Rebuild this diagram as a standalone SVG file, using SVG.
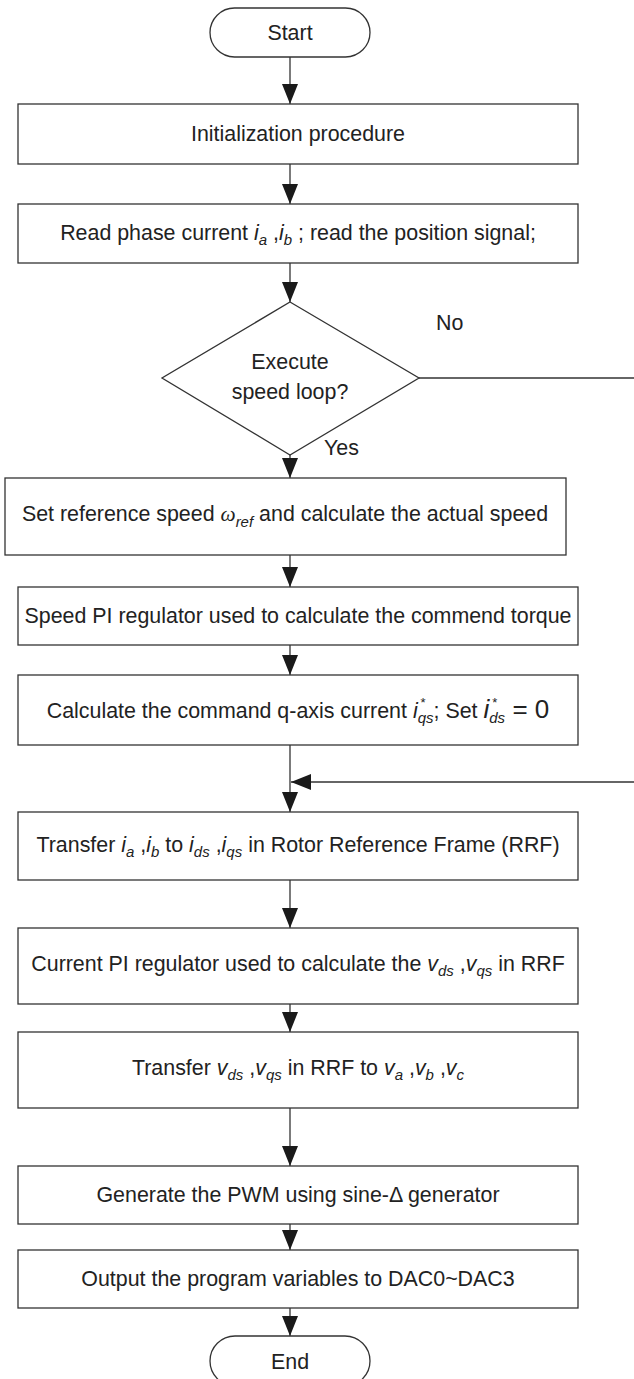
<svg xmlns="http://www.w3.org/2000/svg" width="634" height="1379" viewBox="0 0 634 1379">
<defs>
<marker id="ah" markerUnits="userSpaceOnUse" markerWidth="20" markerHeight="16" viewBox="0 0 20 16" refX="20" refY="8" orient="auto">
<path d="M0,0 L20,8 L0,16 Z" fill="#1a1a1a"/>
</marker>
</defs>
<style>
.box{fill:#fff;stroke:#333;stroke-width:1.3}
.ln{fill:none;stroke:#333;stroke-width:1.3}
text{font-family:"Liberation Sans",Arial,sans-serif;font-size:21.4px;fill:#222}
.t{text-anchor:middle}
.it{font-style:italic}
.sb{font-style:italic;font-size:15px}
.st{font-size:13px}
.om{font-family:"Liberation Serif","Times New Roman",serif;font-style:italic}
.big{font-size:26px}
</style>
<rect width="634" height="1379" fill="#fff"/>
<g id="connectors">
<line class="ln" x1="290" y1="57" x2="290" y2="104" marker-end="url(#ah)"/>
<line class="ln" x1="290" y1="164" x2="290" y2="204" marker-end="url(#ah)"/>
<line class="ln" x1="290" y1="263" x2="290" y2="302" marker-end="url(#ah)"/>
<line class="ln" x1="290" y1="455" x2="290" y2="478" marker-end="url(#ah)"/>
<line class="ln" x1="419" y1="378" x2="634" y2="378"/>
<line class="ln" x1="290" y1="555" x2="290" y2="587" marker-end="url(#ah)"/>
<line class="ln" x1="290" y1="645" x2="290" y2="675" marker-end="url(#ah)"/>
<line class="ln" x1="290" y1="745" x2="290" y2="812" marker-end="url(#ah)"/>
<line class="ln" x1="634" y1="782" x2="291" y2="782" marker-end="url(#ah)"/>
<line class="ln" x1="290" y1="880" x2="290" y2="928" marker-end="url(#ah)"/>
<line class="ln" x1="290" y1="1004" x2="290" y2="1032" marker-end="url(#ah)"/>
<line class="ln" x1="290" y1="1108" x2="290" y2="1166" marker-end="url(#ah)"/>
<line class="ln" x1="290" y1="1224" x2="290" y2="1250" marker-end="url(#ah)"/>
<line class="ln" x1="290" y1="1308" x2="290" y2="1336" marker-end="url(#ah)"/>
<text x="436" y="330">No</text>
<text x="324" y="455">Yes</text>
</g>
<g id="start">
<rect class="box" x="210" y="8" width="160" height="49" rx="24.5"/>
<text class="t" x="290" y="40">Start</text>
</g>
<g id="init">
<rect class="box" x="18" y="104" width="560" height="60"/>
<text class="t" x="298" y="141">Initialization procedure</text>
</g>
<g id="read">
<rect class="box" x="18" y="204" width="560" height="59"/>
<text class="t" x="298" y="240">Read phase current <tspan class="it">i</tspan><tspan class="sb" dy="5">a</tspan><tspan dy="-5"> ,</tspan><tspan class="it">i</tspan><tspan class="sb" dy="5">b</tspan><tspan dy="-5"> ; read the position signal;</tspan></text>
</g>
<g id="decision">
<polygon class="box" points="290,302 419,378 290,455 162,378"/>
<text class="t" x="290" y="369">Execute</text>
<text class="t" x="290" y="399">speed loop?</text>
</g>
<g id="setref">
<rect class="box" x="5" y="478" width="561" height="77"/>
<text class="t" x="285" y="521">Set reference speed <tspan class="om">ω</tspan><tspan class="sb" dy="6">ref</tspan><tspan dy="-6"> and calculate the actual speed</tspan></text>
</g>
<g id="speedpi">
<rect class="box" x="18" y="587" width="560" height="58"/>
<text class="t" x="298" y="623">Speed PI regulator used to calculate the commend torque</text>
</g>
<g id="calc">
<rect class="box" x="18" y="675" width="560" height="70"/>
<text class="t" x="298" y="718">Calculate the command q-axis current <tspan class="it">i</tspan><tspan class="sb" dy="5">qs</tspan><tspan class="st" dx="-13" dy="-16">*</tspan><tspan dx="8" dy="11">; Set </tspan><tspan class="it big">i</tspan><tspan class="sb" dy="5">ds</tspan><tspan class="st" dx="-13" dy="-16">*</tspan><tspan class="big" dx="8" dy="11"> = 0</tspan></text>
</g>
<g id="transfer1">
<rect class="box" x="18" y="812" width="560" height="68"/>
<text class="t" x="298" y="852">Transfer <tspan class="it">i</tspan><tspan class="sb" dy="5">a</tspan><tspan dy="-5"> ,</tspan><tspan class="it">i</tspan><tspan class="sb" dy="5">b</tspan><tspan dy="-5"> to </tspan><tspan class="it">i</tspan><tspan class="sb" dy="5">ds</tspan><tspan dy="-5"> ,</tspan><tspan class="it">i</tspan><tspan class="sb" dy="5">qs</tspan><tspan dy="-5"> in Rotor Reference Frame (RRF)</tspan></text>
</g>
<g id="currentpi">
<rect class="box" x="18" y="928" width="560" height="76"/>
<text class="t" x="298" y="971">Current PI regulator used to calculate the <tspan class="it">v</tspan><tspan class="sb" dy="5">ds</tspan><tspan dy="-5"> ,</tspan><tspan class="it">v</tspan><tspan class="sb" dy="5">qs</tspan><tspan dy="-5"> in RRF</tspan></text>
</g>
<g id="transfer2">
<rect class="box" x="18" y="1032" width="560" height="76"/>
<text class="t" x="298" y="1075">Transfer <tspan class="it">v</tspan><tspan class="sb" dy="5">ds</tspan><tspan dy="-5"> ,</tspan><tspan class="it">v</tspan><tspan class="sb" dy="5">qs</tspan><tspan dy="-5"> in RRF to </tspan><tspan class="it">v</tspan><tspan class="sb" dy="5">a</tspan><tspan dy="-5"> ,</tspan><tspan class="it">v</tspan><tspan class="sb" dy="5">b</tspan><tspan dy="-5"> ,</tspan><tspan class="it">v</tspan><tspan class="sb" dy="5">c</tspan></text>
</g>
<g id="pwm">
<rect class="box" x="18" y="1166" width="560" height="58"/>
<text class="t" x="298" y="1202">Generate the PWM using sine-Δ generator</text>
</g>
<g id="output">
<rect class="box" x="18" y="1250" width="560" height="58"/>
<text class="t" x="298" y="1286">Output the program variables to DAC0~DAC3</text>
</g>
<g id="end">
<rect class="box" x="210" y="1336" width="160" height="50" rx="25"/>
<text class="t" x="290" y="1369">End</text>
</g>
</svg>
